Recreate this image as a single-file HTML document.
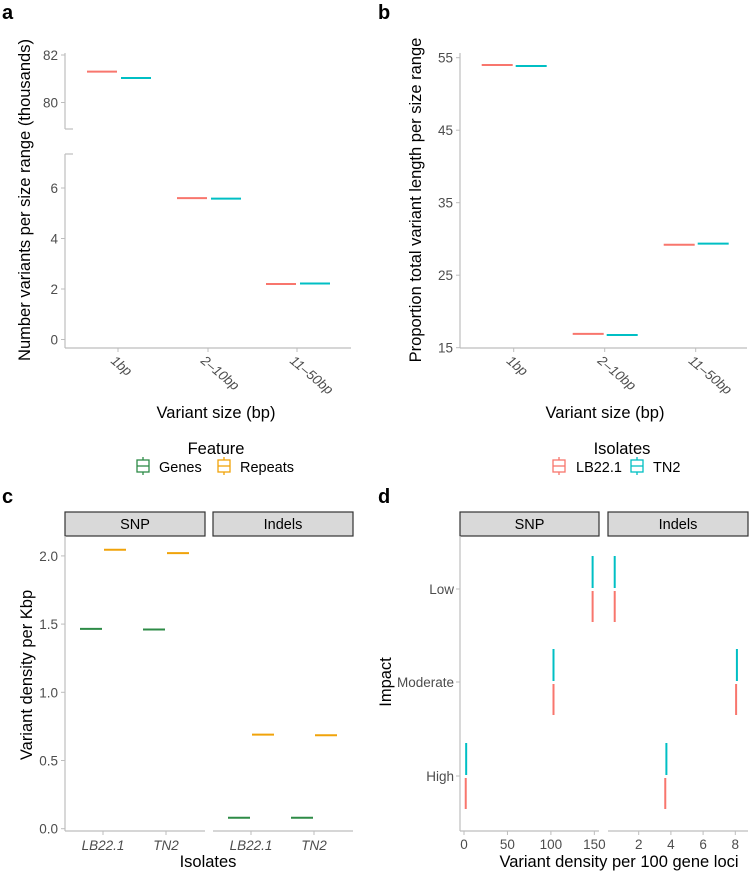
<!DOCTYPE html>
<html><head><meta charset="utf-8"><style>
body{margin:0;background:#fff;}
svg{font-family:"Liberation Sans",sans-serif;}
.tk{fill:#4d4d4d;font-size:13.5px;}
.ttl{fill:#000;font-size:16.5px;}
.lg{fill:#000;font-size:14.5px;}
.lbl{fill:#000;font-size:20px;font-weight:bold;}
</style></head><body>
<svg id="s" width="755" height="875" viewBox="0 0 755 875" xmlns="http://www.w3.org/2000/svg"></svg>
<script>
const sizeCats=['1bp','2\u201310bp','11\u201350bp'];
const aLB=[81.3,5.6,2.2];
const aTN=[81.03,5.58,2.22];
const aTicksLow=[0,2,4,6];
const aTicksHigh=[80,82];
const bLB=[54.0,16.9,29.2];
const bTN=[53.85,16.75,29.35];
const bTicks=[15,25,35,45,55];
const cIso=['LB22.1','TN2'];
const cSnpGenes=[1.465,1.46];
const cSnpRepeats=[2.045,2.02];
const cIndGenes=[0.08,0.08];
const cIndRepeats=[0.69,0.685];
const cTicks=[0.0,0.5,1.0,1.5,2.0];
const impacts=['Low','Moderate','High'];
const dSnpLB=[148,103,2];
const dSnpTN=[148,103,2.5];
const dIndLB=[0.51,8.05,3.65];
const dIndTN=[0.51,8.1,3.72];
const dSnpTicks=[0,50,100,150];
const dIndTicks=[2,4,6,8];

const RED='#f8766d',TEAL='#00bfc4',GREEN='#2e8b47',ORANGE='#f0a30a',AX='#bdbdbd';
const S=document.getElementById('s');
function el(t,a,p){const e=document.createElementNS('http://www.w3.org/2000/svg',t);for(const k in a)e.setAttribute(k,a[k]);(p||S).appendChild(e);return e;}
function line(x1,y1,x2,y2,c,w,name){const e=el('line',{x1,y1,x2,y2,stroke:c,'stroke-width':w});

return e;}
function text(x,y,s,cls,anchor,name,extra){const e=el('text',Object.assign({x,y,class:cls,'text-anchor':anchor||'middle'},extra||{}));e.textContent=s;

return e;}

text(2,19,'a','lbl','start','panel-label-a');
text(378,19,'b','lbl','start','panel-label-b');
text(2,503,'c','lbl','start','panel-label-c');
text(378,503,'d','lbl','start','panel-label-d');

// ---------- Panel a ----------
const aCx=[118,208,297];
const yA=v=>v>=70?(55+(82-v)*23.75):(339.5-v*25.25);
line(65,53,65,129,AX,1.2,'a-y-axis-upper');
line(65,154,65,348,AX,1.2,'a-y-axis-lower');
line(65,129,73,129,AX,1.2,'a-break-mark');
line(65,154,73,154,AX,1.2,'a-break-mark');
line(65,348,351,348,AX,1.2,'a-x-axis');
aTicksLow.concat(aTicksHigh).forEach(v=>{const y=yA(v);line(61,y,65,y,AX,1,'a-y-tick');text(58,y+5,String(v),'tk','end','a-y-tick-label');});
sizeCats.forEach((c,i)=>{line(aCx[i],348,aCx[i],352,AX,1,'a-x-tick');
text(aCx[i]-8,362,c,'tk','start','a-x-tick-label',{transform:`rotate(40 ${aCx[i]-8} 362)`,'font-style':'italic'});
line(aCx[i]-31,yA(aLB[i]),aCx[i]-1,yA(aLB[i]),RED,2,'a-lb22-mark');
line(aCx[i]+3,yA(aTN[i]),aCx[i]+33,yA(aTN[i]),TEAL,2,'a-tn2-mark');});
text(30,200,'Number variants per size range (thousands)','ttl','middle','a-y-axis-title',{transform:'rotate(-90 30 200)'});
text(216,418,'Variant size (bp)','ttl','middle','a-x-axis-title');

// ---------- Panel b ----------
const bCx=[513.7,604.7,695.7];
const yB=v=>347.7-(v-15)*7.25;
line(460,53,460,348,AX,1.2,'b-y-axis');
line(460,348,747,348,AX,1.2,'b-x-axis');
bTicks.forEach(v=>{const y=yB(v);line(456,y,460,y,AX,1,'b-y-tick');text(453,y+5,String(v),'tk','end','b-y-tick-label');});
sizeCats.forEach((c,i)=>{line(bCx[i],348,bCx[i],352,AX,1,'b-x-tick');
text(bCx[i]-8,362,c,'tk','start','b-x-tick-label',{transform:`rotate(40 ${bCx[i]-8} 362)`,'font-style':'italic'});
line(bCx[i]-32,yB(bLB[i]),bCx[i]-1,yB(bLB[i]),RED,2,'b-lb22-mark');
line(bCx[i]+2,yB(bTN[i]),bCx[i]+33,yB(bTN[i]),TEAL,2,'b-tn2-mark');});
text(421,200,'Proportion total variant length per size range','ttl','middle','b-y-axis-title',{transform:'rotate(-90 421 200)'});
text(605,418,'Variant size (bp)','ttl','middle','b-x-axis-title');

function key(x,y,c,name){const g=el('g',{});
el('rect',{x,y:y-6,width:12,height:12,fill:'#fff',stroke:c,'stroke-width':1.3},g);
el('line',{x1:x,y1:y,x2:x+12,y2:y,stroke:c,'stroke-width':1.3},g);
el('line',{x1:x+6,y1:y-9,x2:x+6,y2:y-6,stroke:c,'stroke-width':1.3},g);
el('line',{x1:x+6,y1:y+6,x2:x+6,y2:y+9,stroke:c,'stroke-width':1.3},g);}
text(216,454,'Feature','ttl','middle','feature-legend-title');
key(137,466,GREEN,'legend-key-genes');text(159,472,'Genes','lg','start','legend-label-genes');
key(218,466,ORANGE,'legend-key-repeats');text(240,472,'Repeats','lg','start','legend-label-repeats');
text(622,454,'Isolates','ttl','middle','isolates-legend-title');
key(553,466,RED,'legend-key-lb22');text(576,472,'LB22.1','lg','start','legend-label-lb22');
key(631,466,TEAL,'legend-key-tn2');text(653,472,'TN2','lg','start','legend-label-tn2');

function strip(x1,x2,label,name){const r=el('rect',{x:x1,y:512,width:x2-x1,height:24,fill:'#d9d9d9',stroke:'#333','stroke-width':1.2});


text((x1+x2)/2,529,label,'lg','middle',name+'-label');}

// ---------- Panel c ----------
const yC=v=>828.7-v*136.4;
strip(65,205,'SNP','c-strip-snp');strip(213,353,'Indels','c-strip-indels');
line(65,536,65,831,AX,1.2,'c-y-axis');
line(65,831,205,831,AX,1.2,'c-x-axis-snp');line(213,831,353,831,AX,1.2,'c-x-axis-indels');
cTicks.forEach(v=>{const y=yC(v);line(61,y,65,y,AX,1,'c-y-tick');text(58,y+5,v.toFixed(1),'tk','end','c-y-tick-label');});
const cx1=[103,166],cx2=[251,314];
cIso.forEach((c,i)=>{
[[cx1,cSnpGenes,cSnpRepeats,'snp'],[cx2,cIndGenes,cIndRepeats,'indels']].forEach(([xs,g,r,n])=>{
line(xs[i],831,xs[i],835,AX,1,'c-x-tick');
text(xs[i],850,c,'tk','middle','c-x-tick-label',{'font-style':'italic'});
line(xs[i]-23,yC(g[i]),xs[i]-1,yC(g[i]),GREEN,2,'c-'+n+'-genes-mark');
line(xs[i]+1,yC(r[i]),xs[i]+23,yC(r[i]),ORANGE,2,'c-'+n+'-repeats-mark');});});
text(32,675,'Variant density per Kbp','ttl','middle','c-y-axis-title',{transform:'rotate(-90 32 675)'});
text(208,867,'Isolates','ttl','middle','c-x-axis-title');

// ---------- Panel d ----------
const yD=[589,682,776];
const xD1=v=>464+v*0.869, xD2=v=>638.7+(v-2)*16.1;
strip(460,599,'SNP','d-strip-snp');strip(608,748,'Indels','d-strip-indels');
line(460,536,460,831,AX,1.2,'d-y-axis');
line(460,831,599,831,AX,1.2,'d-x-axis-snp');line(608,831,748,831,AX,1.2,'d-x-axis-indels');
impacts.forEach((c,i)=>{line(456,yD[i],460,yD[i],AX,1,'d-y-tick');text(454,yD[i]+5,c,'tk','end','d-y-tick-label');
line(xD1(dSnpTN[i]),yD[i]-33,xD1(dSnpTN[i]),yD[i]-1,TEAL,2,'d-snp-tn2-mark');
line(xD1(dSnpLB[i]),yD[i]+2,xD1(dSnpLB[i]),yD[i]+33,RED,2,'d-snp-lb22-mark');
line(xD2(dIndTN[i]),yD[i]-33,xD2(dIndTN[i]),yD[i]-1,TEAL,2,'d-indels-tn2-mark');
line(xD2(dIndLB[i]),yD[i]+2,xD2(dIndLB[i]),yD[i]+33,RED,2,'d-indels-lb22-mark');});
dSnpTicks.forEach(v=>{line(xD1(v),831,xD1(v),835,AX,1,'d-x-tick');text(xD1(v),849,String(v),'tk','middle','d-x-tick-label');});
dIndTicks.forEach(v=>{line(xD2(v),831,xD2(v),835,AX,1,'d-x-tick');text(xD2(v),849,String(v),'tk','middle','d-x-tick-label');});
text(391,682,'Impact','ttl','middle','d-y-axis-title',{transform:'rotate(-90 391 682)'});
text(619,867,'Variant density per 100 gene loci','ttl','middle','d-x-axis-title');
</script>
</body></html>
